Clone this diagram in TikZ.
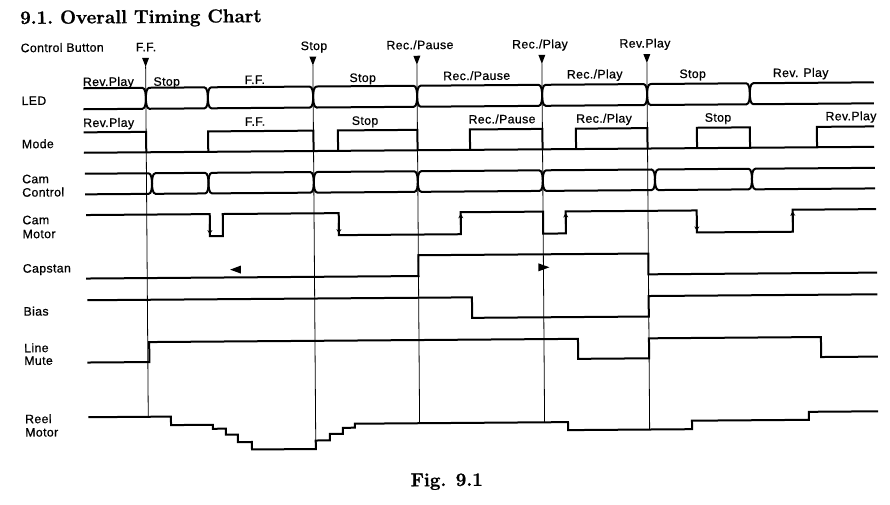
\documentclass[tikz,border=0pt]{standalone}
\usepackage{fontspec}
\newfontfamily\labfont[LetterSpace=3, FakeBold=0.7]{Liberation Sans}
\newfontfamily\titlefont[BoldFeatures={FakeBold=1.2}]{Latin Modern Roman}
\usetikzlibrary{arrows.meta}
\tikzset{
  sig/.style={line width=2pt},
  vline/.style={line width=0.8pt},
  lab/.style={font=\labfont\fontsize{12.3}{14}\selectfont, inner sep=0pt, anchor=base},
  side/.style={lab, anchor=base west},
  arr/.style={line width=2pt, -{Stealth[length=4.5pt,width=5pt]}},
  marker/.style={fill=black},
  ttl/.style={inner sep=0pt, font=\titlefont\fontsize{18.8}{21}\selectfont\bfseries}
}
% bus segment between two pinch points: x1 x2 mid half
\newcommand{\busseg}[4]{%
  \draw[sig] (#1,#3) .. controls (#1,#3-4) and (#1+0.5,#3-#4) .. (#1+3.5,#3-#4) -- (#2-3.5,#3-#4)
    .. controls (#2-0.5,#3-#4) and (#2,#3-4) .. (#2,#3)
    .. controls (#2,#3+4) and (#2-0.5,#3+#4) .. (#2-3.5,#3+#4) -- (#1+3.5,#3+#4)
    .. controls (#1+0.5,#3+#4) and (#1,#3+4) .. (#1,#3);}
\newcommand{\busstart}[4]{%
  \draw[sig] (#1,#3-#4) -- (#2-3.5,#3-#4) .. controls (#2-0.5,#3-#4) and (#2,#3-4) .. (#2,#3)
    .. controls (#2,#3+4) and (#2-0.5,#3+#4) .. (#2-3.5,#3+#4) -- (#1,#3+#4);}
\newcommand{\busend}[4]{%
  \draw[sig] (#2,#3-#4) -- (#1+3.5,#3-#4) .. controls (#1+0.5,#3-#4) and (#1,#3-4) .. (#1,#3)
    .. controls (#1,#3+4) and (#1+0.5,#3+#4) .. (#1+3.5,#3+#4) -- (#2,#3+#4);}
\begin{document}
\begin{tikzpicture}[x=1pt,y=-1pt]
\useasboundingbox (0,0) rectangle (890,504);
\begin{scope}[rotate around={0.43:(450,250)}, transform shape]
% title and caption
\node[ttl, anchor=base west] (title) at (21.7,20.7) {9.1.\ Overall Timing Chart};
\node[ttl, anchor=base] (fig) at (445,486) {Fig. 9.1};

% left labels
\node[side] (lcb) at (22,49) {Control Button};
\node[side] (lled) at (22.5,101.8) {LED};
\node[side] (lmode) at (22.5,145.1) {Mode};
\node[side] (lcc1) at (22.5,180.1) {Cam};
\node[side] (lcc2) at (22.5,193.5) {Control};
\node[side] (lcm1) at (22.5,221.1) {Cam};
\node[side] (lcm2) at (22.5,235.1) {Motor};
\node[side] (lcap) at (22.5,269.5) {Capstan};
\node[side] (lbias) at (22.9,312.5) {Bias};
\node[side] (llm1) at (23.3,349.1) {Line};
\node[side] (llm2) at (23.3,361.8) {Mute};
\node[side] (lrm1) at (23.7,420.1) {Reel};
\node[side] (lrm2) at (23.7,433.5) {Motor};

% control buttons: labels, markers, vertical lines
\node[lab] (bff) at (147.5,49) {F.F.};
\node[lab] (bstop) at (315.5,49) {Stop};
\node[lab] (brp) at (421.5,49) {Rec./Pause};
\node[lab] (brpl) at (541.5,49) {Rec./Play};
\node[lab] (brev) at (646.5,49) {Rev.Play};
\foreach \x/\b in {147/414.5, 314.3/448, 418.3/423, 543.3/423, 648.3/431}{
  \fill[marker] (\x-3.5,55.5) -- (\x+3.5,55.5) -- (\x,64.5) -- cycle;
  \draw[vline] (\x,64) -- (\x,\b);
}

% LED
\node[lab, anchor=base west] (led1) at (84,83.4) {Rev.Play};
\node[lab] (led2) at (168,83.6) {Stop};
\node[lab] (led3) at (256,82.5) {F.F.};
\node[lab] (led4) at (364,81.3) {Stop};
\node[lab] (led5) at (478,80.2) {Rec./Pause};
\node[lab] (led6) at (596,79.5) {Rec./Play};
\node[lab] (led7) at (694,79.8) {Stop};
\node[lab] (led8) at (802,79.6) {Rev. Play};
\busstart{84.5}{147}{96}{10.5}
\foreach \a/\b in {147/209, 209/314.3, 314.3/418.3, 418.3/543.3, 543.3/648.3, 648.3/751}{
  \busseg{\a}{\b}{96}{10.5}
}
\busend{751}{875}{96}{10.5}

% Mode
\node[lab, anchor=base west] (m1) at (84,124.4) {Rev.Play};
\node[lab] (m2) at (256,124.3) {F.F.};
\node[lab] (m3) at (366,124.2) {Stop};
\node[lab] (m4) at (503,123.8) {Rec./Pause};
\node[lab] (m5) at (605,123.8) {Rec./Play};
\node[lab] (m6) at (719,123.7) {Stop};
\node[lab] (m7) at (852,123.3) {Rev.Play};
\draw[sig] (84.5,150) -- (875,150);
\draw[sig] (84.5,129.6) -- (147,129.6) -- (147,150);
\foreach \a/\b in {209/314.3, 338.8/418.3, 470.8/543.3, 576.8/648.3, 697.8/750.8}{
  \draw[sig] (\a,150) -- (\a,129.6) -- (\b,129.6) -- (\b,150);
}
\draw[sig] (817.8,150) -- (817.8,129.6) -- (875,129.6);

% Cam Control
\busstart{85.5}{152.5}{181.3}{10.3}
\foreach \a/\b in {152.5/209, 209/314.3, 314.3/418.3, 418.3/543.3, 543.3/655.5, 655.5/752.5}{
  \busseg{\a}{\b}{181.3}{10.3}
}
\busend{752.5}{875.5}{181.3}{10.3}

% Cam Motor
\draw[sig] (86.3,212.3) -- (210,212.3) -- (210,234.3) -- (223,234.3) -- (223,212.3)
  -- (339,212.3) -- (339,234.3) -- (461,234.3) -- (461,212.3) -- (543.3,212.3)
  -- (543.3,234.3) -- (566,234.3) -- (566,212.3) -- (697,212.3) -- (697,234.3)
  -- (793,234.3) -- (793,212.3) -- (876.5,212.3);
\foreach \x in {210, 339, 697}{ \draw[arr] (\x,222) -- (\x,232.8); }
\foreach \x in {461, 566, 793}{ \draw[arr] (\x,225) -- (\x,213.8); }

% Capstan
\draw[sig] (86,275.8) -- (418.3,275.8) -- (418.3,255) -- (648.3,255) -- (648.3,275.8) -- (877,275.8);
\fill[marker] (240.7,264) -- (240.7,272) -- (230,268) -- cycle;
\fill[marker] (538.3,264) -- (538.3,272) -- (549.3,268) -- cycle;

% Bias
\draw[sig] (87,297.5) -- (471.6,297.5) -- (471.6,318) -- (648.3,318) -- (648.3,297.5) -- (877,297.5);

% Line Mute
\draw[sig] (86.6,359.8) -- (148.5,359.8) -- (148.5,339.8) -- (577.3,339.8) -- (577.3,359.8)
  -- (648.3,359.8) -- (648.3,339.8) -- (820.3,339.8) -- (820.3,359.8) -- (877,359.8);

% Reel Motor
\draw[sig] (87,414.5) -- (169.7,414.5) -- (169.7,423) -- (211.6,423) -- (211.6,427)
  -- (224.6,427) -- (224.6,433) -- (236.5,433) -- (236.5,440.5) -- (250.5,440.5)
  -- (250.5,448) -- (314.3,448) -- (314.3,439.5) -- (328.5,439.5) -- (328.5,433)
  -- (341.5,433) -- (341.5,427) -- (353.5,427) -- (353.5,423) -- (566.7,423)
  -- (566.7,431) -- (690.7,431) -- (690.7,422.5) -- (807.7,422.5) -- (807.7,414.5) -- (877,414.5);
\end{scope}
\end{tikzpicture}
\end{document}
